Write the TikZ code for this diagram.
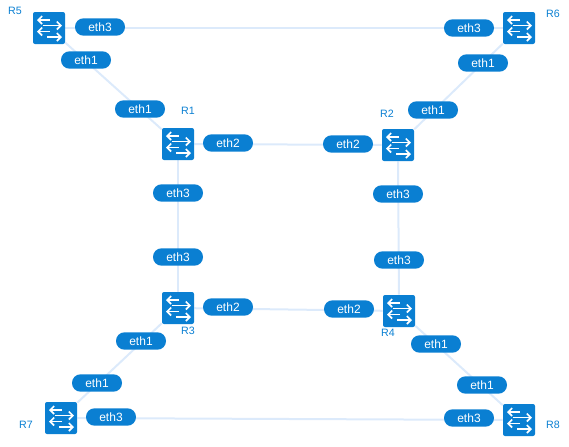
\documentclass[tikz,border=0pt]{standalone}
\usepackage{fontspec}
\setmainfont{Liberation Sans}
\usetikzlibrary{arrows.meta,backgrounds}
\definecolor{netblue}{HTML}{0A7FD2}
\definecolor{netlink}{HTML}{DCEAFB}
\tikzset{
  x=0.75pt, y=-0.75pt,
  switchbox/.style={fill=netblue, rounded corners=1.5pt, minimum size=24pt, inner sep=0pt,
    path picture={
      \begin{scope}[shift={(path picture bounding box.center)}, white, line width=1.2pt,
          arrows={-{Straight Barb[length=3pt,width=6pt]}}]
        \draw (1,-8) -- (-12,-8);
        \draw (-6,-2.5) -- (13,-2.5);
        \draw (1,3.5) -- (-12,3.5);
        \draw (-2,9) -- (13,9);
      \end{scope}
    }},
  portpill/.style={fill=netblue, text=white, rounded corners=6.4pt, minimum width=37.5pt,
    minimum height=13pt, inner sep=0pt, font=\fontsize{9}{9}\selectfont},
  routertag/.style={text=netblue, inner sep=0pt, font=\fontsize{8}{9}\selectfont},
  netlinkline/.style={draw=netlink, line width=1.5pt}
}
\begin{document}
\begin{tikzpicture}
  \useasboundingbox (0,0) rectangle (569,447);

  % switches
  \node[switchbox] (sw5) at (49,28) {};
  \node[switchbox] (sw6) at (519,28) {};
  \node[switchbox] (sw1) at (178,144) {};
  \node[switchbox] (sw2) at (398,145) {};
  \node[switchbox] (sw3) at (178,308) {};
  \node[switchbox] (sw4) at (399,311) {};
  \node[switchbox] (sw7) at (61,418) {};
  \node[switchbox] (sw8) at (519,420) {};

  % router names
  \node[routertag] (tag5) at (15,11) {R5};
  \node[routertag] (tag6) at (553,14) {R6};
  \node[routertag] (tag1) at (188,111) {R1};
  \node[routertag] (tag2) at (387,114) {R2};
  \node[routertag] (tag3) at (188,331) {R3};
  \node[routertag] (tag4) at (388,333) {R4};
  \node[routertag] (tag7) at (26,425) {R7};
  \node[routertag] (tag8) at (553,425) {R8};

  % ports
  \node[portpill] (p5a) at (100,27) {eth3};
  \node[portpill] (p5b) at (86,60) {eth1};
  \node[portpill] (p6a) at (469,28) {eth3};
  \node[portpill] (p6b) at (483,63) {eth1};
  \node[portpill] (p1a) at (140,109) {eth1};
  \node[portpill] (p1b) at (228,143) {eth2};
  \node[portpill] (p1c) at (178,193) {eth3};
  \node[portpill] (p2a) at (433,110) {eth1};
  \node[portpill] (p2b) at (348,144) {eth2};
  \node[portpill] (p2c) at (398,194) {eth3};
  \node[portpill] (p3a) at (178,257) {eth3};
  \node[portpill] (p3b) at (228,307) {eth2};
  \node[portpill] (p3c) at (141,341) {eth1};
  \node[portpill] (p4a) at (399,260) {eth3};
  \node[portpill] (p4b) at (349,309) {eth2};
  \node[portpill] (p4c) at (436,344) {eth1};
  \node[portpill] (p7a) at (97,383) {eth1};
  \node[portpill] (p7b) at (111,417) {eth3};
  \node[portpill] (p8a) at (482,385) {eth1};
  \node[portpill] (p8b) at (469,418) {eth3};

  % links
  \begin{pgfonlayer}{background}
    \draw[netlinkline] (sw5) -- (sw6);
    \draw[netlinkline] (sw5) -- (sw1);
    \draw[netlinkline] (sw6) -- (sw2);
    \draw[netlinkline] (sw1) -- (sw2);
    \draw[netlinkline] (sw1) -- (sw3);
    \draw[netlinkline] (sw2) -- (sw4);
    \draw[netlinkline] (sw3) -- (sw4);
    \draw[netlinkline] (sw3) -- (sw7);
    \draw[netlinkline] (sw4) -- (sw8);
    \draw[netlinkline] (sw7) -- (sw8);
  \end{pgfonlayer}
\end{tikzpicture}
\end{document}
